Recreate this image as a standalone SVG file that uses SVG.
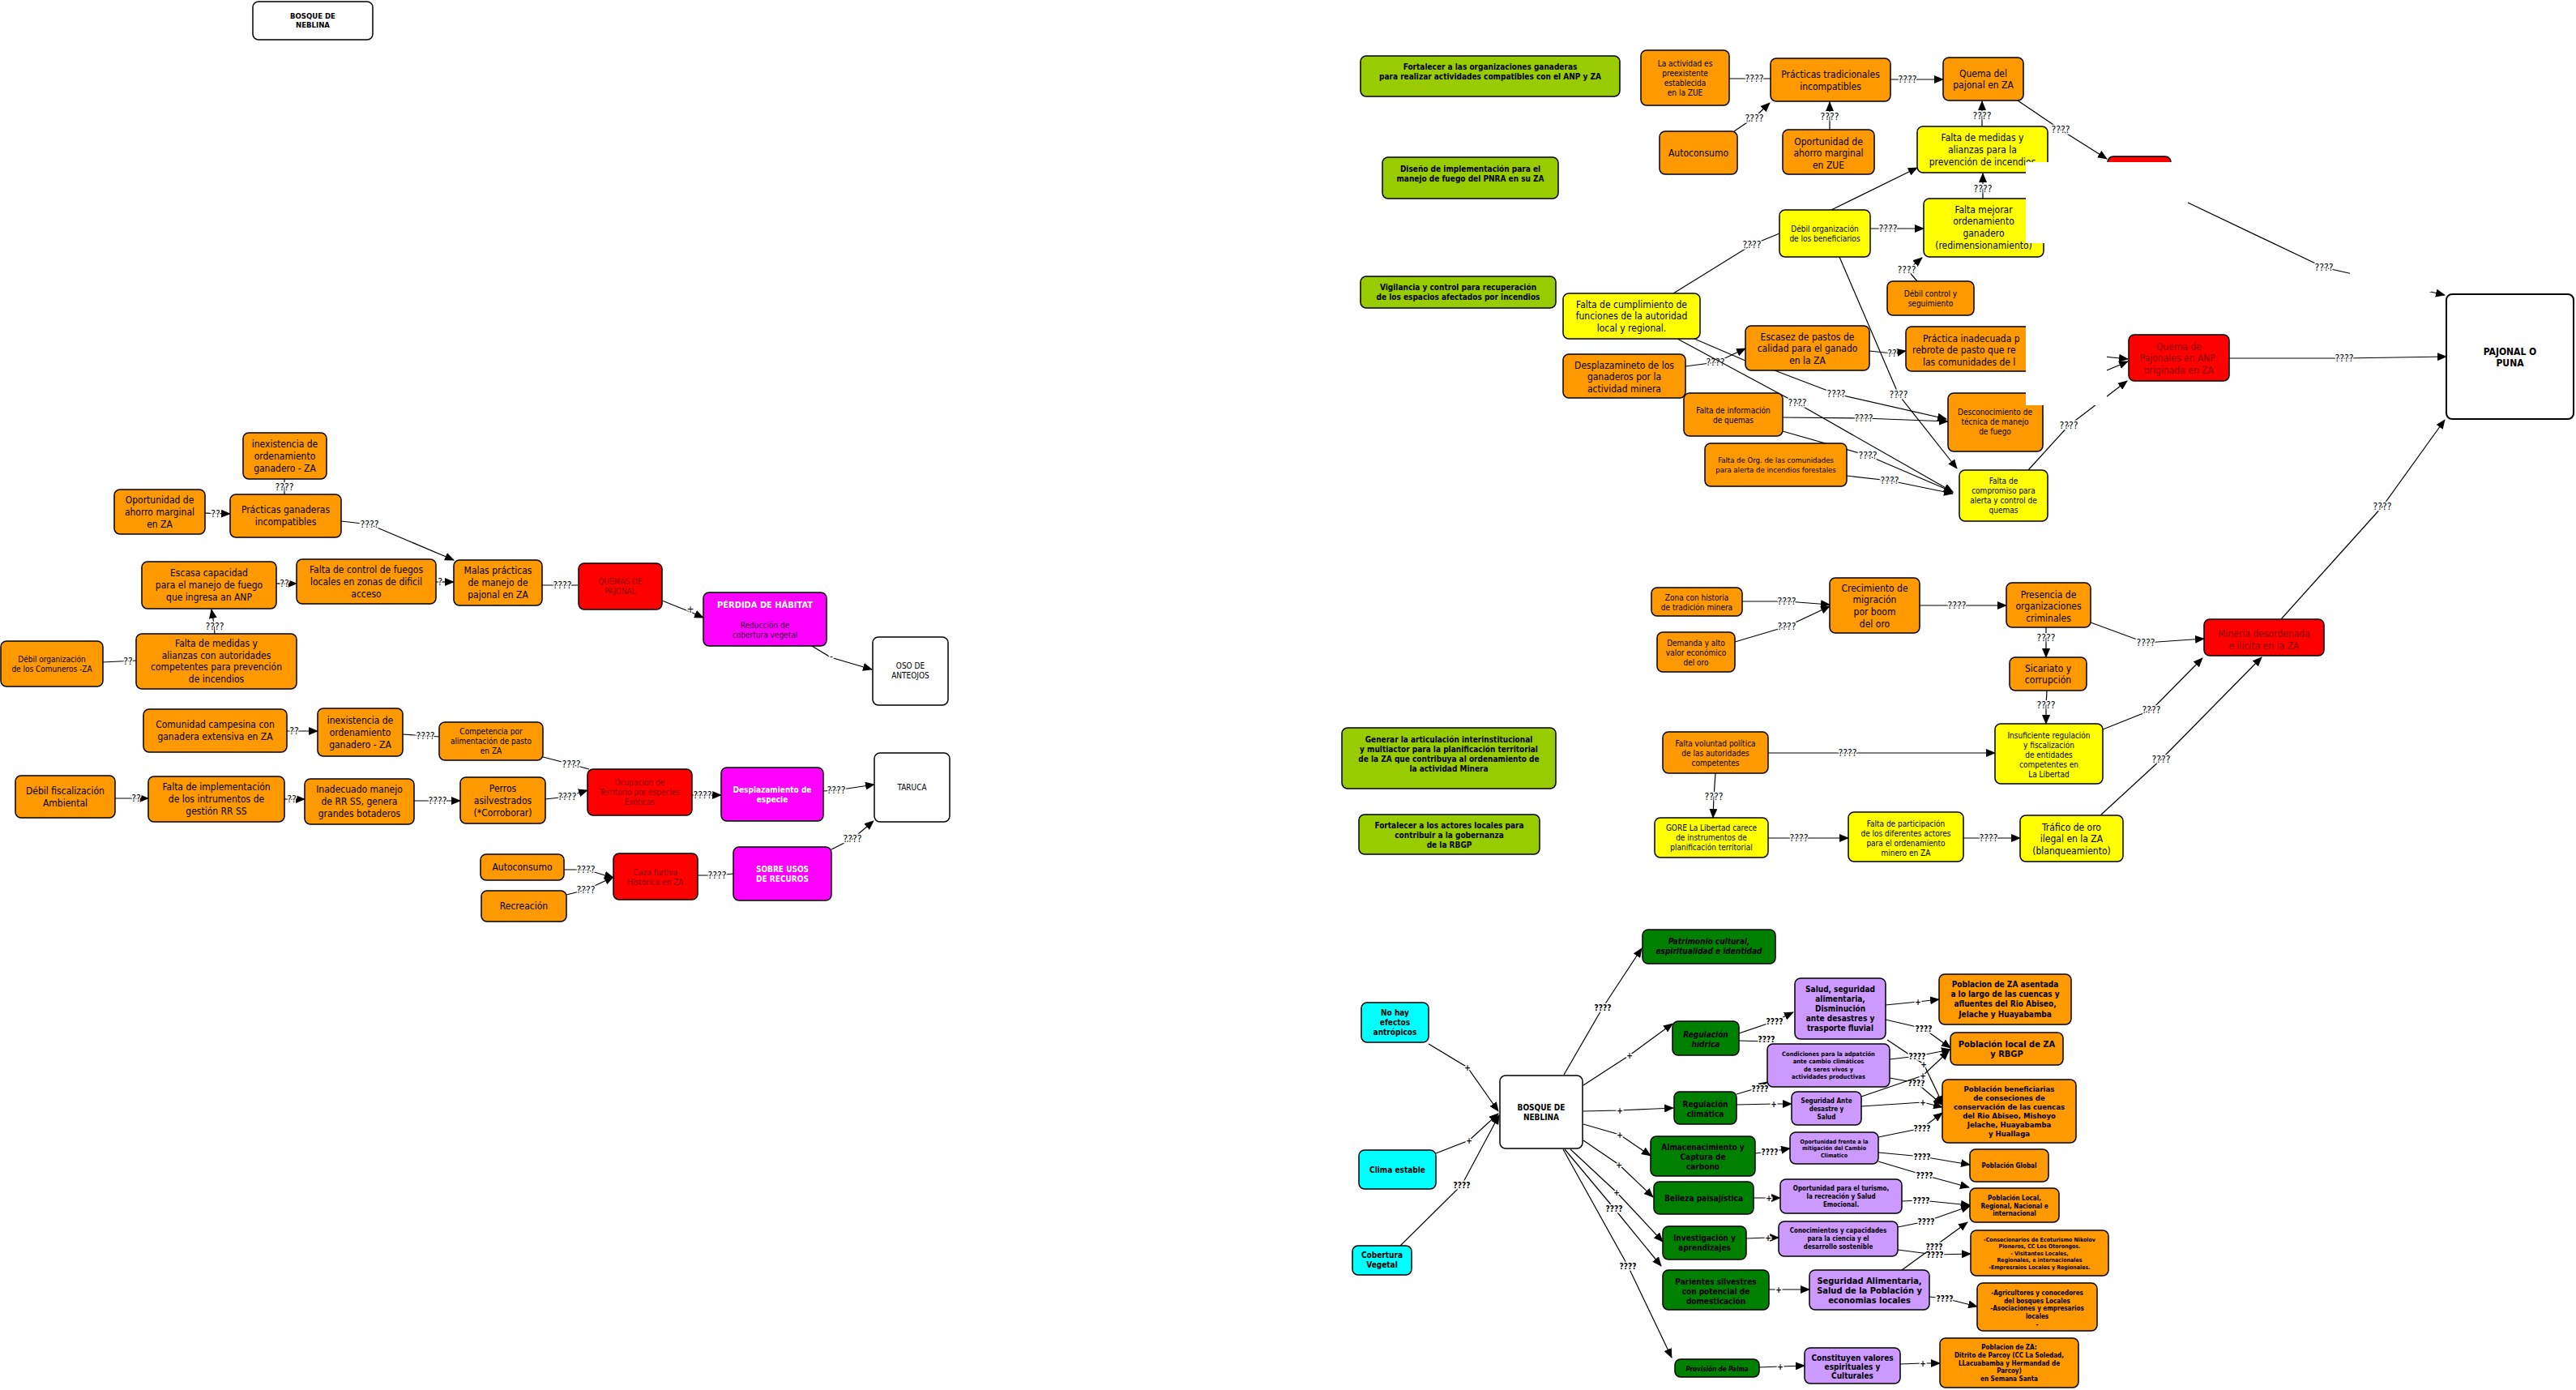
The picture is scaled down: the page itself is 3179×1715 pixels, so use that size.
<svg xmlns="http://www.w3.org/2000/svg" width="3179" height="1715" viewBox="0 0 3179 1715">
<style>
.n{stroke:#000;stroke-width:1.5}
.or{fill:#FF9900}.ye{fill:#FFFF00}.rd{fill:#FF0000}.mg{fill:#FF00FF}.lg{fill:#99CC00}.dg{fill:#008000}.cy{fill:#00FFFF}.pu{fill:#CC99FF}.wh{fill:#FFFFFF}
text{font-family:"DejaVu Sans","Liberation Sans",sans-serif;font-stretch:condensed;text-anchor:middle;fill:#000}
.f12{font-size:12px}.f10{font-size:10px}.f9{font-size:9.5px}.f11{font-size:11px}.f8{font-size:8px}.f7{font-size:7px}.f75{font-size:7.5px}
.b{font-weight:bold}.i{font-style:italic}.w{fill:#fff}.dr{fill:#8B0000}.dk{fill:#330033}
.c{fill:none;stroke:#000;stroke-width:1.2}
.a{marker-end:url(#ah)}
.l{font-size:12px;stroke:#fff;stroke-width:3;paint-order:stroke}
.lb{font-size:10px;font-weight:bold;stroke:#fff;stroke-width:3;paint-order:stroke}
.cover{fill:#fff;stroke:none}
</style>
<defs>
<marker id="ah" viewBox="0 0 12 10" refX="11" refY="5" markerWidth="12" markerHeight="10" markerUnits="userSpaceOnUse" orient="auto"><path d="M0,0 L12,5 L0,10 z" fill="#000"/></marker>
</defs>
<rect width="3179" height="1715" fill="#fff"/>

<g id="connectors">
<!-- left cluster 1 -->
<path class="c" d="M351,591 L351,610"/><text class="l" x="351" y="605">????</text>
<path class="c a" d="M253,633 L284,634"/><text class="l" x="266" y="638">??</text>
<path class="c a" d="M421,643 L456,647 L560,691"/><text class="l" x="456" y="651">????</text>
<path class="c a" d="M341,720 L366,720"/><text class="l" x="351" y="724">??</text>
<path class="c a" d="M538,718 L560,718"/><text class="l" x="543" y="722">?</text>
<path class="c a" d="M265,782 L264,770 L261,752"/><text class="l" x="265" y="777">????</text>
<path class="c" d="M127,817 L168,815"/><text class="l" x="158" y="820">??</text>
<path class="c" d="M669,722 L713,722"/><text class="l" x="694" y="726">????</text>
<path class="c a" d="M817,741 L852,755 L868,762"/><text class="l" x="852" y="756">+</text>
<path class="c a" d="M1002,797 L1025,811 L1076,826"/><text class="l" x="1026" y="814">-</text>
<!-- left cluster 2 -->
<path class="c a" d="M354,902 L392,902"/><text class="l" x="363" y="906">??</text>
<path class="c" d="M497,906 L542,909"/><text class="l" x="525" y="912">????</text>
<path class="c" d="M670,934 L705,943 L727,949"/><text class="l" x="705" y="947">????</text>
<path class="c a" d="M142,985 L183,985"/><text class="l" x="168" y="989">??</text>
<path class="c a" d="M351,986 L376,986"/><text class="l" x="360" y="990">??</text>
<path class="c a" d="M511,988 L568,988"/><text class="l" x="540" y="992">????</text>
<path class="c a" d="M673,986 L700,983 L725,975"/><text class="l" x="700" y="987">????</text>
<path class="c a" d="M854,981 L890,981"/><text class="l" x="867" y="985">????</text>
<path class="c a" d="M1016,976 L1032,975 L1079,968"/><text class="l" x="1032" y="979">????</text>
<path class="c a" d="M1026,1048 L1052,1035 L1078,1013"/><text class="l" x="1052" y="1039">????</text>
<path class="c a" d="M696,1073 L723,1073 L757,1083"/><text class="l" x="723" y="1077">????</text>
<path class="c a" d="M699,1104 L723,1098 L757,1082"/><text class="l" x="723" y="1102">????</text>
<path class="c" d="M861,1080 L885,1080 L905,1078"/><text class="l" x="885" y="1084">????</text>
<!-- top right -->
<path class="c" d="M2134,97 L2170,97 L2185,97"/><text class="l" x="2165" y="101">????</text>
<path class="c a" d="M2140,162 L2165,145 L2184,127"/><text class="l" x="2165" y="150">????</text>
<path class="c a" d="M2258,160 L2258,143 L2258,126"/><text class="l" x="2258" y="148">????</text>
<path class="c a" d="M2333,98 L2354,98 L2398,98"/><text class="l" x="2354" y="102">????</text>
<path class="c a" d="M2446,156 L2446,143 L2446,125"/><text class="l" x="2446" y="147">????</text>
<path class="c a" d="M2490,124 L2543,160 L2600,196"/><text class="l" x="2543" y="164">????</text>
<path class="c a" d="M2260,259 L2366,207"/>
<path class="c a" d="M2308,282 L2330,282 L2374,282"/><text class="l" x="2330" y="286">????</text>
<path class="c a" d="M2447,245 L2447,233 L2447,214"/><text class="l" x="2447" y="237">????</text>
<path class="c a" d="M2366,347 L2354,333 L2372,318"/><text class="l" x="2353" y="337">????</text>
<path class="c" d="M2065,362 L2162,302 L2196,288"/><text class="l" x="2162" y="306">????</text>
<path class="c a" d="M2270,317 L2343,487 L2415,578"/><text class="l" x="2343" y="491">????</text>
<path class="c a" d="M2080,452 L2118,447 L2154,430"/><text class="l" x="2117" y="451">????</text>
<path class="c a" d="M2307,433 L2335,436 L2352,433"/><text class="l" x="2335" y="440">??</text>
<path class="c" d="M2091,418 L2154,445"/>
<path class="c a" d="M2190,457 L2266,486 L2402,517"/><text class="l" x="2266" y="490">????</text>
<path class="c a" d="M2070,418 L2217,497 L2410,607"/><text class="l" x="2218" y="501">????</text>
<path class="c a" d="M2200,515 L2300,516 L2404,520"/><text class="l" x="2300" y="520">????</text>
<path class="c a" d="M2200,532 L2305,562 L2410,607"/><text class="l" x="2305" y="566">????</text>
<path class="c a" d="M2279,587 L2332,593 L2410,609"/><text class="l" x="2332" y="597">????</text>
<path class="c a" d="M2503,580 L2553,525 L2625,470"/><text class="l" x="2553" y="529">????</text>
<path class="c a" d="M2500,430 L2626,443"/>
<path class="c a" d="M2521,490 L2626,446"/>
<path class="c a" d="M2751,442 L2893,442 L3019,440"/><text class="l" x="2893" y="446">????</text>
<path class="c a" d="M2679,240 L2868,330 L3017,364"/><text class="l" x="2868" y="334">????</text>
<path class="c a" d="M2815,764 L2940,625 L3017,518"/><text class="l" x="2940" y="629">????</text>
<!-- mining -->
<path class="c a" d="M2150,742 L2205,742 L2258,746"/><text class="l" x="2205" y="746">????</text>
<path class="c a" d="M2141,792 L2205,773 L2258,748"/><text class="l" x="2205" y="777">????</text>
<path class="c a" d="M2369,747 L2415,747 L2476,747"/><text class="l" x="2415" y="751">????</text>
<path class="c a" d="M2525,774 L2525,787 L2525,811"/><text class="l" x="2525" y="791">????</text>
<path class="c a" d="M2580,768 L2648,793 L2720,788"/><text class="l" x="2648" y="797">????</text>
<path class="c a" d="M2526,852 L2525,870 L2525,893"/><text class="l" x="2525" y="874">????</text>
<path class="c a" d="M2595,900 L2655,876 L2718,812"/><text class="l" x="2655" y="880">????</text>
<path class="c a" d="M2182,929 L2280,929 L2462,929"/><text class="l" x="2280" y="933">????</text>
<path class="c a" d="M2117,954 L2115,983 L2114,1009"/><text class="l" x="2115" y="987">????</text>
<path class="c a" d="M2182,1034 L2220,1034 L2281,1034"/><text class="l" x="2220" y="1038">????</text>
<path class="c a" d="M2423,1034 L2454,1034 L2493,1034"/><text class="l" x="2454" y="1038">????</text>
<path class="c a" d="M2592,1006 L2667,937 L2791,811"/><text class="l" x="2667" y="941">????</text>
<!-- bottom -->
<path class="c a" d="M1763,1288 L1811,1317 L1849,1371"/><text class="lb" x="1811" y="1321">+</text>
<path class="c a" d="M1772,1423 L1813,1407 L1849,1374"/><text class="lb" x="1813" y="1411">+</text>
<path class="c a" d="M1728,1537 L1804,1462 L1850,1376"/><text class="lb" x="1804" y="1466">????</text>
<path class="c a" d="M1930,1326 L1978,1243 L2026,1170"/><text class="lb" x="1978" y="1247">????</text>
<path class="c a" d="M1954,1339 L2011,1302 L2064,1263"/><text class="lb" x="2011" y="1306">+</text>
<path class="c a" d="M1954,1371 L1999,1370 L2065,1367"/><text class="lb" x="1999" y="1374">+</text>
<path class="c a" d="M1954,1387 L1999,1400 L2037,1426"/><text class="lb" x="1999" y="1404">+</text>
<path class="c a" d="M1954,1407 L1998,1437 L2040,1477"/><text class="lb" x="1998" y="1441">+</text>
<path class="c a" d="M1938,1418 L1995,1471 L2052,1532"/><text class="lb" x="1995" y="1475">+</text>
<path class="c a" d="M1931,1418 L1992,1491 L2050,1562"/><text class="lb" x="1992" y="1495">????</text>
<path class="c a" d="M1929,1418 L2009,1562 L2063,1675"/><text class="lb" x="2009" y="1566">????</text>
<path class="c a" d="M2146,1275 L2190,1260 L2213,1249"/><text class="lb" x="2190" y="1264">????</text>
<path class="c" d="M2146,1284 L2181,1285"/><text class="lb" x="2180" y="1286">????</text>
<path class="c a" d="M2143,1350 L2170,1342 L2181,1335"/><text class="lb" x="2172" y="1347">????</text>
<path class="c a" d="M2143,1363 L2189,1362 L2211,1362"/><text class="lb" x="2189" y="1366">+</text>
<path class="c a" d="M2166,1423 L2184,1421 L2209,1417"/><text class="lb" x="2184" y="1425">????</text>
<path class="c a" d="M2164,1478 L2183,1478 L2197,1478"/><text class="lb" x="2183" y="1482">+</text>
<path class="c a" d="M2155,1528 L2182,1527 L2195,1527"/><text class="lb" x="2182" y="1531">+</text>
<path class="c a" d="M2183,1591 L2195,1591 L2233,1591"/><text class="lb" x="2195" y="1595">+</text>
<path class="c a" d="M2171,1687 L2197,1686 L2227,1685"/><text class="lb" x="2197" y="1690">+</text>
<path class="c a" d="M2327,1240 L2367,1236 L2393,1233"/><text class="lb" x="2367" y="1240">+</text>
<path class="c a" d="M2327,1258 L2374,1269 L2407,1293"/><text class="lb" x="2374" y="1273">????</text>
<path class="c a" d="M2329,1283 L2374,1313 L2398,1363"/><text class="lb" x="2374" y="1317">+</text>
<path class="c a" d="M2332,1307 L2366,1303 L2407,1295"/><text class="lb" x="2366" y="1307">????</text>
<path class="c a" d="M2332,1330 L2365,1336 L2397,1363"/><text class="lb" x="2365" y="1340">????</text>
<path class="c a" d="M2297,1353 L2373,1327 L2405,1297"/><text class="lb" x="2373" y="1331">+</text>
<path class="c a" d="M2297,1365 L2373,1360 L2397,1366"/><text class="lb" x="2373" y="1364">+</text>
<path class="c a" d="M2318,1403 L2372,1392 L2397,1373"/><text class="lb" x="2372" y="1396">????</text>
<path class="c a" d="M2318,1422 L2372,1427 L2431,1437"/><text class="lb" x="2372" y="1431">????</text>
<path class="c a" d="M2318,1433 L2375,1450 L2430,1465"/><text class="lb" x="2375" y="1454">????</text>
<path class="c a" d="M2347,1482 L2371,1481 L2431,1487"/><text class="lb" x="2371" y="1485">????</text>
<path class="c a" d="M2342,1514 L2377,1507 L2431,1488"/><text class="lb" x="2377" y="1511">????</text>
<path class="c a" d="M2342,1542 L2388,1548 L2432,1547"/><text class="lb" x="2388" y="1552">????</text>
<path class="c a" d="M2347,1567 L2387,1538 L2428,1508"/><text class="lb" x="2387" y="1542">????</text>
<path class="c a" d="M2381,1600 L2400,1602 L2440,1612"/><text class="lb" x="2400" y="1606">????</text>
<path class="c a" d="M2345,1683 L2373,1682 L2394,1682"/><text class="lb" x="2373" y="1686">+</text>
</g>

<!-- ===== Left nodes ===== -->
<g id="n-bosque-top"><rect class="n wh" x="312" y="2" width="148" height="47" rx="7"/><text class="f9 b" x="386" y="23"><tspan x="386">BOSQUE DE</tspan><tspan x="386" dy="11">NEBLINA</tspan></text></g>
<g id="n-inex1"><rect class="n or" x="300" y="534" width="103" height="57" rx="7"/><text class="f12" x="351.5" y="551.7"><tspan x="351.5">inexistencia de</tspan><tspan x="351.5" dy="15">ordenamiento</tspan><tspan x="351.5" dy="15">ganadero - ZA</tspan></text></g>
<g id="n-oport1"><rect class="n or" x="141" y="604" width="112" height="55" rx="7"/><text class="f12" x="197" y="620.7"><tspan x="197">Oportunidad de</tspan><tspan x="197" dy="15">ahorro marginal</tspan><tspan x="197" dy="15">en ZA</tspan></text></g>
<g id="n-pract-gan"><rect class="n or" x="284" y="610" width="137" height="53" rx="7"/><text class="f12" x="352.5" y="633.2"><tspan x="352.5">Prácticas ganaderas</tspan><tspan x="352.5" dy="15">incompatibles</tspan></text></g>
<g id="n-escasa"><rect class="n or" x="175" y="693" width="166" height="58" rx="7"/><text class="f12" x="258" y="711.2"><tspan x="258">Escasa capacidad</tspan><tspan x="258" dy="15">para el manejo de fuego</tspan><tspan x="258" dy="15">que ingresa an ANP</tspan></text></g>
<g id="n-falta-control"><rect class="n or" x="366" y="690" width="172" height="55" rx="7"/><text class="f12" x="452" y="706.7"><tspan x="452">Falta de control de fuegos</tspan><tspan x="452" dy="15">locales en zonas de dificil</tspan><tspan x="452" dy="15">acceso</tspan></text></g>
<g id="n-malas"><rect class="n or" x="560" y="691" width="109" height="56" rx="7"/><text class="f12" x="614.5" y="708.2"><tspan x="614.5">Malas prácticas</tspan><tspan x="614.5" dy="15">de manejo de</tspan><tspan x="614.5" dy="15">pajonal en ZA</tspan></text></g>
<g id="n-quemas"><rect class="n rd" x="714" y="695" width="103" height="57" rx="7"/><text class="f10 dr" x="765.5" y="721"><tspan x="765.5">QUEMAS DE</tspan><tspan x="765.5" dy="12">PAJONAL</tspan></text></g>
<g id="n-perdida"><rect class="n mg" x="868" y="731" width="152" height="66" rx="7"/><text class="f11 b w" x="944" y="750">PÉRDIDA DE HÁBITAT</text><text class="f10 dk" x="944" y="775"><tspan x="944">Reducción de</tspan><tspan x="944" dy="12">cobertura vegetal</tspan></text></g>
<g id="n-oso"><rect class="n wh" x="1077" y="786" width="93" height="84" rx="7"/><text class="f10" x="1123.5" y="825"><tspan x="1123.5">OSO DE</tspan><tspan x="1123.5" dy="12">ANTEOJOS</tspan></text></g>
<g id="n-debil-com"><rect class="n or" x="1" y="791" width="126" height="56" rx="7"/><text class="f10" x="64" y="817"><tspan x="64">Débil organización</tspan><tspan x="64" dy="12">de los Comuneros -ZA</tspan></text></g>
<g id="n-falta-medidas1"><rect class="n or" x="168" y="782" width="198" height="68" rx="7"/><text class="f12" x="267" y="798"><tspan x="267">Falta de medidas y</tspan><tspan x="267" dy="14.7">alianzas con autoridades</tspan><tspan x="267" dy="14.7">competentes para prevención</tspan><tspan x="267" dy="14.7">de incendios</tspan></text></g>
<g id="n-comunidad"><rect class="n or" x="177" y="875" width="177" height="53" rx="7"/><text class="f12" x="265.5" y="898.2"><tspan x="265.5">Comunidad campesina con</tspan><tspan x="265.5" dy="15">ganadera extensiva en ZA</tspan></text></g>
<g id="n-inex2"><rect class="n or" x="392" y="874" width="105" height="59" rx="7"/><text class="f12" x="444.5" y="892.7"><tspan x="444.5">inexistencia de</tspan><tspan x="444.5" dy="15">ordenamiento</tspan><tspan x="444.5" dy="15">ganadero - ZA</tspan></text></g>
<g id="n-competencia"><rect class="n or" x="542" y="891" width="128" height="47" rx="7"/><text class="f10" x="606" y="906"><tspan x="606">Competencia por</tspan><tspan x="606" dy="12">alimentación de pasto</tspan><tspan x="606" dy="12">en ZA</tspan></text></g>
<g id="n-debil-fisc"><rect class="n or" x="19" y="957" width="123" height="52" rx="7"/><text class="f12" x="80.5" y="979.7"><tspan x="80.5">Débil fiscalización</tspan><tspan x="80.5" dy="15">Ambiental</tspan></text></g>
<g id="n-falta-impl"><rect class="n or" x="183" y="958" width="168" height="56" rx="7"/><text class="f12" x="267" y="975.2"><tspan x="267">Falta de implementación</tspan><tspan x="267" dy="15">de los intrumentos de</tspan><tspan x="267" dy="15">gestión RR SS</tspan></text></g>
<g id="n-inadecuado"><rect class="n or" x="376" y="961" width="135" height="56" rx="7"/><text class="f12" x="443.5" y="978.2"><tspan x="443.5">Inadecuado manejo</tspan><tspan x="443.5" dy="15">de RR SS, genera</tspan><tspan x="443.5" dy="15">grandes botaderos</tspan></text></g>
<g id="n-perros"><rect class="n or" x="568" y="959" width="105" height="57" rx="7"/><text class="f12" x="620.5" y="976.7"><tspan x="620.5">Perros</tspan><tspan x="620.5" dy="15">asilvestrados</tspan><tspan x="620.5" dy="15">(*Corroborar)</tspan></text></g>
<g id="n-ocupacion"><rect class="n rd" x="725" y="949" width="129" height="57" rx="7"/><text class="f10 dr" x="789.5" y="969"><tspan x="789.5">Ocupación de</tspan><tspan x="789.5" dy="12">Territorio por especies</tspan><tspan x="789.5" dy="12">Exóticas</tspan></text></g>
<g id="n-desplaz-esp"><rect class="n mg" x="890" y="947" width="126" height="66" rx="7"/><text class="f10 b w" x="953" y="977.5"><tspan x="953">Desplazamiento de</tspan><tspan x="953" dy="12">especie</tspan></text></g>
<g id="n-taruca"><rect class="n wh" x="1079" y="929" width="93" height="85" rx="7"/><text class="f10" x="1125.5" y="974.5">TARUCA</text></g>
<g id="n-autoconsumo1"><rect class="n or" x="593" y="1054" width="103" height="32" rx="7"/><text class="f12" x="644.5" y="1074.2">Autoconsumo</text></g>
<g id="n-recreacion"><rect class="n or" x="594" y="1099" width="105" height="38" rx="7"/><text class="f12" x="646.5" y="1122.2">Recreación</text></g>
<g id="n-caza"><rect class="n rd" x="757" y="1053" width="104" height="57" rx="7"/><text class="f10 dr" x="809" y="1079.5"><tspan x="809">Caza furtiva</tspan><tspan x="809" dy="12">Histórica en ZA</tspan></text></g>
<g id="n-sobre-usos"><rect class="n mg" x="905" y="1045" width="121" height="66" rx="7"/><text class="f10 b w" x="965.5" y="1075.5"><tspan x="965.5">SOBRE USOS</tspan><tspan x="965.5" dy="12">DE RECUROS</tspan></text></g>

<!-- ===== Top right nodes ===== -->
<g id="n-fortalecer-org"><rect class="n lg" x="1679" y="69" width="320" height="50" rx="7"/><text class="f10 b" x="1839" y="85.5"><tspan x="1839">Fortalecer a las organizaciones ganaderas</tspan><tspan x="1839" dy="12">para realizar  actividades compatibles con el ANP y ZA</tspan></text></g>
<g id="n-diseno"><rect class="n lg" x="1706" y="194" width="217" height="51" rx="7"/><text class="f10 b" x="1814.5" y="211.5"><tspan x="1814.5">Diseño de implementación para el</tspan><tspan x="1814.5" dy="12">manejo de fuego del PNRA en su ZA</tspan></text></g>
<g id="n-vigilancia"><rect class="n lg" x="1679" y="341" width="241" height="39" rx="7"/><text class="f10 b" x="1799.5" y="358"><tspan x="1799.5">Vigilancia y control para recuperación</tspan><tspan x="1799.5" dy="12">de los espacios afectados por incendios</tspan></text></g>
<g id="n-actividad"><rect class="n or" x="2025" y="62" width="109" height="68" rx="7"/><text class="f10" x="2079.5" y="81.5"><tspan x="2079.5">La actividad es</tspan><tspan x="2079.5" dy="12">preexistente</tspan><tspan x="2079.5" dy="12">establecida</tspan><tspan x="2079.5" dy="12">en la ZUE</tspan></text></g>
<g id="n-pract-trad"><rect class="n or" x="2185" y="72" width="148" height="53" rx="7"/><text class="f12" x="2259" y="96"><tspan x="2259">Prácticas tradicionales</tspan><tspan x="2259" dy="15">incompatibles</tspan></text></g>
<g id="n-quema-za"><rect class="n or" x="2398" y="71" width="99" height="53" rx="7"/><text class="f12" x="2447.5" y="94.5"><tspan x="2447.5">Quema del</tspan><tspan x="2447.5" dy="14.5">pajonal en ZA</tspan></text></g>
<g id="n-autoconsumo2"><rect class="n or" x="2048" y="162" width="96" height="53" rx="7"/><text class="f12" x="2096" y="192.7">Autoconsumo</text></g>
<g id="n-oport-zue"><rect class="n or" x="2200" y="160" width="113" height="55" rx="7"/><text class="f12" x="2256.5" y="178.5"><tspan x="2256.5">Oportunidad de</tspan><tspan x="2256.5" dy="14.7">ahorro marginal</tspan><tspan x="2256.5" dy="14.7">en ZUE</tspan></text></g>
<g id="n-falta-medidas2"><rect class="n ye" x="2366" y="156" width="161" height="57" rx="7"/><text class="f12" x="2446.5" y="173.5"><tspan x="2446.5">Falta de medidas y</tspan><tspan x="2446.5" dy="15">alianzas para la</tspan><tspan x="2446.5" dy="15">prevención de incendios</tspan></text></g>
<g id="n-debil-benef"><rect class="n ye" x="2196" y="259" width="112" height="58" rx="7"/><text class="f10" x="2252" y="285.5"><tspan x="2252">Débil organización</tspan><tspan x="2252" dy="12">de los beneficiarios</tspan></text></g>
<g id="n-falta-mejorar"><rect class="n ye" x="2374" y="245" width="148" height="72" rx="7"/><text class="f12" x="2448" y="262.5"><tspan x="2448">Falta mejorar</tspan><tspan x="2448" dy="14.7">ordenamiento</tspan><tspan x="2448" dy="14.7">ganadero</tspan><tspan x="2448" dy="14.7">(redimensionamiento)</tspan></text></g>
<g id="n-debil-control"><rect class="n or" x="2329" y="347" width="107" height="42" rx="7"/><text class="f10" x="2382.5" y="365.5"><tspan x="2382.5">Débil control y</tspan><tspan x="2382.5" dy="12">seguimiento</tspan></text></g>
<g id="n-falta-cumpl"><rect class="n ye" x="1929" y="362" width="169" height="56" rx="7"/><text class="f12" x="2013.5" y="379.5"><tspan x="2013.5">Falta de cumplimiento de</tspan><tspan x="2013.5" dy="14.5">funciones de la autoridad</tspan><tspan x="2013.5" dy="14.5">local y regional.</tspan></text></g>
<g id="n-desplaz-gan"><rect class="n or" x="1929" y="437" width="151" height="54" rx="7"/><text class="f12" x="2004.5" y="454.5"><tspan x="2004.5">Desplazamineto de los</tspan><tspan x="2004.5" dy="14.5">ganaderos por la</tspan><tspan x="2004.5" dy="14.5">actividad minera</tspan></text></g>
<g id="n-escasez"><rect class="n or" x="2154" y="402" width="153" height="55" rx="7"/><text class="f12" x="2230.5" y="419.5"><tspan x="2230.5">Escasez de pastos de</tspan><tspan x="2230.5" dy="14.5">calidad para el ganado</tspan><tspan x="2230.5" dy="14.5">en la ZA</tspan></text></g>
<g id="n-practica-inad"><rect class="n or" x="2352" y="403" width="168" height="55" rx="7"/><text class="f12" x="2373" y="421.5" style="text-anchor:start"><tspan x="2373">Práctica inadecuada p</tspan><tspan x="2360" dy="14.5">rebrote de pasto que re</tspan><tspan x="2373" dy="14.5">las comunidades de l</tspan></text></g>
<g id="n-falta-info"><rect class="n or" x="2078" y="485" width="122" height="53" rx="7"/><text class="f10" x="2139" y="509.5"><tspan x="2139">Falta de información</tspan><tspan x="2139" dy="12">de quemas</tspan></text></g>
<g id="n-desconocimiento"><rect class="n or" x="2404" y="485" width="117" height="72" rx="7"/><text class="f10" x="2462" y="511.5"><tspan x="2462">Desconocimiento de</tspan><tspan x="2462" dy="12">técnica de manejo</tspan><tspan x="2462" dy="12">de fuego</tspan></text></g>
<g id="n-falta-org"><rect class="n or" x="2104" y="547" width="175" height="53" rx="7"/><text class="f9" x="2191.5" y="571"><tspan x="2191.5">Falta de Org. de las comunidades</tspan><tspan x="2191.5" dy="11.5">para alerta de incendios forestales</tspan></text></g>
<g id="n-falta-compromiso"><rect class="n ye" x="2418" y="580" width="109" height="63" rx="7"/><text class="f10" x="2472.5" y="596.5"><tspan x="2472.5">Falta de</tspan><tspan x="2472.5" dy="12.2">compromiso para</tspan><tspan x="2472.5" dy="12.2">alerta y control de</tspan><tspan x="2472.5" dy="12.2">quemas</tspan></text></g>
<g id="n-red-hidden"><rect class="n rd" x="2601" y="193" width="78" height="50" rx="7"/></g>
<g id="n-quema-anp"><rect class="n rd" x="2627" y="413" width="124" height="57" rx="7"/><text class="f12 dr" x="2689" y="431.5"><tspan x="2689">Quema de</tspan><tspan x="2689" dy="14.5">Pajonales en ANP,</tspan><tspan x="2689" dy="14.5">originada en ZA</tspan></text></g>
<g id="n-pajonal"><rect class="n wh" x="3019" y="363" width="157" height="154" rx="7" style="stroke-width:2"/><text class="f12 b" x="3097.5" y="437.5"><tspan x="3097.5">PAJONAL O</tspan><tspan x="3097.5" dy="14.5">PUNA</tspan></text></g>

<!-- white overlays as in reference -->
<rect class="cover" x="2500" y="200" width="200" height="100"/>
<rect class="cover" x="2500" y="318" width="100" height="182"/>
<rect class="cover" x="2900" y="331" width="100" height="29"/>

<!-- ===== Mining nodes ===== -->
<g id="n-zona"><rect class="n or" x="2038" y="725" width="112" height="35" rx="7"/><text class="f10" x="2094" y="740.5"><tspan x="2094">Zona con historia</tspan><tspan x="2094" dy="12">de tradición minera</tspan></text></g>
<g id="n-demanda"><rect class="n or" x="2045" y="780" width="96" height="49" rx="7"/><text class="f10" x="2093" y="796.5"><tspan x="2093">Demanda y alto</tspan><tspan x="2093" dy="12">valor económico</tspan><tspan x="2093" dy="12">del oro</tspan></text></g>
<g id="n-crecimiento"><rect class="n or" x="2258" y="713" width="111" height="68" rx="7"/><text class="f12" x="2313.5" y="729.5"><tspan x="2313.5">Crecimiento de</tspan><tspan x="2313.5" dy="14.7">migración</tspan><tspan x="2313.5" dy="14.7">por boom</tspan><tspan x="2313.5" dy="14.7">del oro</tspan></text></g>
<g id="n-presencia"><rect class="n or" x="2476" y="719" width="104" height="55" rx="7"/><text class="f12" x="2528" y="737.5"><tspan x="2528">Presencia de</tspan><tspan x="2528" dy="14.5">organizaciones</tspan><tspan x="2528" dy="14.5">criminales</tspan></text></g>
<g id="n-sicariato"><rect class="n or" x="2480" y="811" width="95" height="41" rx="7"/><text class="f12" x="2527.5" y="828.5"><tspan x="2527.5">Sicariato y</tspan><tspan x="2527.5" dy="14.5">corrupción</tspan></text></g>
<g id="n-mineria"><rect class="n rd" x="2720" y="764" width="148" height="45" rx="7"/><text class="f12 dr" x="2794" y="785.5"><tspan x="2794">Minería  desordenada</tspan><tspan x="2794" dy="15">e ilicíta  en la ZA</tspan></text></g>
<g id="n-generar"><rect class="n lg" x="1656" y="898" width="264" height="75" rx="7"/><text class="f10 b" x="1788" y="915.5"><tspan x="1788">Generar la articulación interinstitucional</tspan><tspan x="1788" dy="12">y multiactor para la planificación  territorial</tspan><tspan x="1788" dy="12">de la ZA que contribuya al ordenamiento de</tspan><tspan x="1788" dy="12">la actividad Minera</tspan></text></g>
<g id="n-fortalecer-act"><rect class="n lg" x="1677" y="1005" width="223" height="49" rx="7"/><text class="f10 b" x="1788.5" y="1021.5"><tspan x="1788.5">Fortalecer a los actores locales para</tspan><tspan x="1788.5" dy="12">contribuir a la gobernanza</tspan><tspan x="1788.5" dy="12">de la RBGP</tspan></text></g>
<g id="n-voluntad"><rect class="n or" x="2052" y="903" width="130" height="51" rx="7"/><text class="f10" x="2117" y="920.5"><tspan x="2117">Falta voluntad política</tspan><tspan x="2117" dy="12">de las autoridades</tspan><tspan x="2117" dy="12">competentes</tspan></text></g>
<g id="n-gore"><rect class="n ye" x="2042" y="1009" width="140" height="49" rx="7"/><text class="f10" x="2112" y="1024.5"><tspan x="2112">GORE La Libertad carece</tspan><tspan x="2112" dy="12">de instrumentos de</tspan><tspan x="2112" dy="12">planificación territorial</tspan></text></g>
<g id="n-insuficiente"><rect class="n ye" x="2462" y="893" width="133" height="74" rx="7"/><text class="f10" x="2528.5" y="910.5"><tspan x="2528.5">Insuficiente regulación</tspan><tspan x="2528.5" dy="12">y fiscalización</tspan><tspan x="2528.5" dy="12">de entidades</tspan><tspan x="2528.5" dy="12">competentes en</tspan><tspan x="2528.5" dy="12">La Libertad</tspan></text></g>
<g id="n-participacion"><rect class="n ye" x="2281" y="1002" width="142" height="61" rx="7"/><text class="f10" x="2352" y="1019.5"><tspan x="2352">Falta de participación</tspan><tspan x="2352" dy="12">de los diferentes actores</tspan><tspan x="2352" dy="12">para el ordenamiento</tspan><tspan x="2352" dy="12">minero en ZA</tspan></text></g>
<g id="n-trafico"><rect class="n ye" x="2493" y="1006" width="127" height="57" rx="7"/><text class="f12" x="2556.5" y="1024.5"><tspan x="2556.5">Tráfico de oro</tspan><tspan x="2556.5" dy="14.5">ilegal en la ZA</tspan><tspan x="2556.5" dy="14.5">(blanqueamiento)</tspan></text></g>

<!-- ===== Bottom nodes ===== -->
<g id="n-patrimonio"><rect class="n dg" x="2027" y="1147" width="164" height="42" rx="7"/><text class="f10 b i" x="2109" y="1164.5"><tspan x="2109">Patrimonio cultural,</tspan><tspan x="2109" dy="12">espiritualidad e identidad</tspan></text></g>
<g id="n-nohay"><rect class="n cy" x="1680" y="1237" width="83" height="49" rx="7"/><text class="f10 b" x="1721.5" y="1252.5"><tspan x="1721.5">No hay</tspan><tspan x="1721.5" dy="12">efectos</tspan><tspan x="1721.5" dy="12">antrópicos</tspan></text></g>
<g id="n-clima"><rect class="n cy" x="1677" y="1419" width="95" height="48" rx="7"/><text class="f10 b" x="1724.5" y="1446.5">Clima estable</text></g>
<g id="n-cobertura"><rect class="n cy" x="1669" y="1537" width="73" height="36" rx="7"/><text class="f10 b" x="1705.5" y="1551.5"><tspan x="1705.5">Cobertura</tspan><tspan x="1705.5" dy="12">Vegetal</tspan></text></g>
<g id="n-bosque"><rect class="n wh" x="1851" y="1327" width="102" height="90" rx="7"/><text class="f10 b" x="1902" y="1369.5"><tspan x="1902">BOSQUE DE</tspan><tspan x="1902" dy="12">NEBLINA</tspan></text></g>
<g id="n-reg-hidrica"><rect class="n dg" x="2064" y="1260" width="82" height="42" rx="7"/><text class="f10 b i" x="2105" y="1279.5"><tspan x="2105">Regulación</tspan><tspan x="2105" dy="12">hídrica</tspan></text></g>
<g id="n-reg-climatica"><rect class="n dg" x="2066" y="1347" width="77" height="40" rx="7"/><text class="f10 b" x="2104.5" y="1365.5"><tspan x="2104.5">Regulación</tspan><tspan x="2104.5" dy="12">climática</tspan></text></g>
<g id="n-almacen"><rect class="n dg" x="2037" y="1402" width="129" height="49" rx="7"/><text class="f10 b" x="2101.5" y="1418.5"><tspan x="2101.5">Almacenacimiento y</tspan><tspan x="2101.5" dy="12">Captura de</tspan><tspan x="2101.5" dy="12">carbono</tspan></text></g>
<g id="n-belleza"><rect class="n dg" x="2041" y="1458" width="123" height="40" rx="7"/><text class="f10 b" x="2102.5" y="1481.5">Belleza paisajística</text></g>
<g id="n-investigacion"><rect class="n dg" x="2052" y="1513" width="103" height="41" rx="7"/><text class="f10 b" x="2103.5" y="1530.5"><tspan x="2103.5">Investigación y</tspan><tspan x="2103.5" dy="12">aprendizajes</tspan></text></g>
<g id="n-parientes"><rect class="n dg" x="2052" y="1567" width="131" height="49" rx="7"/><text class="f10 b" x="2117.5" y="1584.5"><tspan x="2117.5">Parientes silvestres</tspan><tspan x="2117.5" dy="12">con potencial de</tspan><tspan x="2117.5" dy="12">domesticación</tspan></text></g>
<g id="n-palma"><rect class="n dg" x="2067" y="1677" width="104" height="22" rx="7"/><text class="f8 b i" x="2119" y="1691.5">Provisión de Palma</text></g>
<g id="n-salud"><rect class="n pu" x="2215" y="1207" width="112" height="75" rx="7"/><text class="f10 b" x="2271" y="1223.5"><tspan x="2271">Salud, seguridad</tspan><tspan x="2271" dy="12.2">alimentaria,</tspan><tspan x="2271" dy="12.2">Disminución</tspan><tspan x="2271" dy="12.2">ante desastres y</tspan><tspan x="2271" dy="12.2">trasporte fluvial</tspan></text></g>
<g id="n-condiciones"><rect class="n pu" x="2181" y="1288" width="151" height="53" rx="7"/><text class="f75 b" x="2256.5" y="1302.5"><tspan x="2256.5">Condiciones para la adpatción</tspan><tspan x="2256.5" dy="9.6">ante cambio climáticos</tspan><tspan x="2256.5" dy="9.6">de seres vivos y</tspan><tspan x="2256.5" dy="9.6">actividades productivas</tspan></text></g>
<g id="n-seg-ante"><rect class="n pu" x="2211" y="1347" width="86" height="41" rx="7"/><text class="f8 b" x="2254" y="1361"><tspan x="2254">Seguridad Ante</tspan><tspan x="2254" dy="10">desastre y</tspan><tspan x="2254" dy="10">Salud</tspan></text></g>
<g id="n-oport-mitig"><rect class="n pu" x="2209" y="1397" width="109" height="39" rx="7"/><text class="f7 b" x="2263.5" y="1410.5"><tspan x="2263.5">Oportunidad frente a la</tspan><tspan x="2263.5" dy="8.5">mitigación del  Cambio</tspan><tspan x="2263.5" dy="8.5">Climatico</tspan></text></g>
<g id="n-oport-turismo"><rect class="n pu" x="2197" y="1455" width="150" height="42" rx="7"/><text class="f8 b" x="2272" y="1469"><tspan x="2272">Oportunidad para el turismo,</tspan><tspan x="2272" dy="10">la recreación y Salud</tspan><tspan x="2272" dy="10">Emocional.</tspan></text></g>
<g id="n-conocimientos"><rect class="n pu" x="2195" y="1507" width="147" height="43" rx="7"/><text class="f8 b" x="2268.5" y="1521"><tspan x="2268.5">Conocimientos y capacidades</tspan><tspan x="2268.5" dy="10">para la ciencia y el</tspan><tspan x="2268.5" dy="10">desarrollo sostenible</tspan></text></g>
<g id="n-seg-alim"><rect class="n pu" x="2233" y="1567" width="148" height="49" rx="7"/><text class="f11 b" x="2307" y="1584"><tspan x="2307">Seguridad Alimentaria,</tspan><tspan x="2307" dy="12">Salud de la Población y</tspan><tspan x="2307" dy="12">economias locales</tspan></text></g>
<g id="n-constituyen"><rect class="n pu" x="2227" y="1663" width="118" height="44" rx="7"/><text class="f10 b" x="2286" y="1678.5"><tspan x="2286">Constituyen valores</tspan><tspan x="2286" dy="11">espirituales y</tspan><tspan x="2286" dy="11">Culturales</tspan></text></g>
<g id="n-pob-asentada"><rect class="n or" x="2393" y="1202" width="163" height="62" rx="7"/><text class="f10 b" x="2474.5" y="1218"><tspan x="2474.5">Poblacion de ZA asentada</tspan><tspan x="2474.5" dy="12.2">a lo largo de las cuencas y</tspan><tspan x="2474.5" dy="12.2">afluentes  del Rio Abiseo,</tspan><tspan x="2474.5" dy="12.2">Jelache y Huayabamba</tspan></text></g>
<g id="n-pob-local"><rect class="n or" x="2407" y="1274" width="139" height="40" rx="7"/><text class="f11 b" x="2476.5" y="1292"><tspan x="2476.5">Población local  de ZA</tspan><tspan x="2476.5" dy="12">y RBGP</tspan></text></g>
<g id="n-pob-benef"><rect class="n or" x="2397" y="1332" width="165" height="78" rx="7"/><text class="f9 b" x="2479.5" y="1346.5"><tspan x="2479.5">Población beneficiarias</tspan><tspan x="2479.5" dy="11">de conseciones de</tspan><tspan x="2479.5" dy="11">conservación de las cuencas</tspan><tspan x="2479.5" dy="11">del Rio Abiseo, Mishoyo</tspan><tspan x="2479.5" dy="11">Jelache, Huayabamba</tspan><tspan x="2479.5" dy="11">y Huallaga</tspan></text></g>
<g id="n-pob-global"><rect class="n or" x="2431" y="1418" width="97" height="40" rx="7"/><text class="f8 b" x="2479.5" y="1441">Población Global</text></g>
<g id="n-pob-lrn"><rect class="n or" x="2431" y="1466" width="110" height="42" rx="7"/><text class="f8 b" x="2486" y="1481"><tspan x="2486">Población Local,</tspan><tspan x="2486" dy="9.6">Regional, Nacional e</tspan><tspan x="2486" dy="9.6">internacional</tspan></text></g>
<g id="n-consecionarios"><rect class="n or" x="2432" y="1518" width="170" height="56" rx="7"/><text class="f7 b" x="2517" y="1531.5"><tspan x="2517">-Consecionarios de Ecoturismo Nikolov</tspan><tspan x="2517" dy="8.5">Pioneros, CC Los Otorongos.</tspan><tspan x="2517" dy="8.5">- Visitantes Locales,</tspan><tspan x="2517" dy="8.5">Regionales, e internacionales</tspan><tspan x="2517" dy="8.5">-Empresraios Locales y Regionales.</tspan></text></g>
<g id="n-agricultores"><rect class="n or" x="2440" y="1583" width="148" height="59" rx="7"/><text class="f8 b" x="2514" y="1598"><tspan x="2514">-Agricultores y conocedores</tspan><tspan x="2514" dy="9.7">del bosques Locales</tspan><tspan x="2514" dy="9.7">-Asociaciones y empresarios</tspan><tspan x="2514" dy="9.7">locales</tspan><tspan x="2514" dy="9.7">-</tspan></text></g>
<g id="n-pob-ditrito"><rect class="n or" x="2394" y="1651" width="171" height="61" rx="7"/><text class="f8 b" x="2479.5" y="1665"><tspan x="2479.5">Poblacion de ZA:</tspan><tspan x="2479.5" dy="9.8">Ditrito de Parcoy (CC La Soledad,</tspan><tspan x="2479.5" dy="9.8">LLacuabamba y Hermandad de</tspan><tspan x="2479.5" dy="9.8">Parcoy)</tspan><tspan x="2479.5" dy="9.8">en Semana Santa</tspan></text></g>
</svg>
